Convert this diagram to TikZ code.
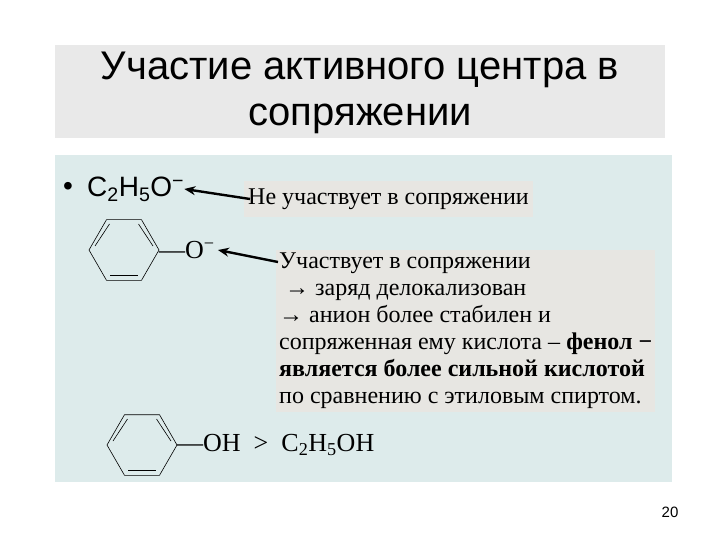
\documentclass[tikz,border=0pt]{standalone}
\usepackage{fontspec}
\setmainfont{Liberation Serif}
\newfontfamily\arial{Liberation Sans}
\usetikzlibrary{arrows.meta}
\definecolor{panel}{HTML}{DDEBEB}
\definecolor{tgray}{HTML}{E9E9E9}
\definecolor{bgray}{HTML}{E7E6E2}
\tikzset{
  ptr/.style={line width=2.4pt,-{Stealth[length=11pt,width=9pt]}},
  bond/.style={line width=0.6pt},
  tbox/.style={fill=bgray,inner sep=3pt,anchor=north west,align=left,font=\fontsize{24}{27}\selectfont},
}
\newcommand{\benz}[3]{% name, x, y
  \coordinate (#1) at (#2,#3);
  \draw[bond] (#2+35,#3) -- (#2+17.5,#3+30.3) -- (#2-17.5,#3+30.3) -- (#2-35,#3) -- (#2-17.5,#3-30.3) -- (#2+17.5,#3-30.3) -- cycle;
  \draw[bond] (#2-29,#3-4) -- (#2-14.5,#3-26);
  \draw[bond] (#2+29,#3-4) -- (#2+14.5,#3-26);
  \draw[bond] (#2-14,#3+25) -- (#2+14,#3+25);
}
\begin{document}
\begin{tikzpicture}[x=1pt,y=-1pt]
\useasboundingbox[fill=white] (0,0) rectangle (720,540);
\fill[tgray] (55,45) rectangle (665,138);
\node[font=\arial\fontsize{40}{40}\selectfont,align=center] (title) at (360,93) {Участие активного центра в\\[6pt]сопряжении};
\fill[panel] (55,155) rectangle (672,482);
\node[font=\arial\fontsize{28}{30}\selectfont] (bul) at (68,189) {•};
\node[font=\arial\fontsize{28}{30}\selectfont,anchor=west,inner sep=0pt] (et) at (87,189) {C\textsubscript{2}H\textsubscript{5}O\textsuperscript{−}};
\node[tbox,minimum height=36pt,inner sep=4pt] (b1) at (244,181) {Не участвует в сопряжении};
\coordinate (a1) at (250,199);
\draw[ptr] (a1) -- (et.east);
\benz{r1}{124}{250}
\node[font=\fontsize{26}{28}\selectfont,anchor=west,inner sep=0pt] (o1) at (159,250) {—O\textsuperscript{−}};
\node[tbox] (b2) at (276,250) {Участвует в сопряжении\\
\ → заряд делокализован\\
→ анион более стабилен и\\
сопряженная ему кислота – \textbf{фенол −}\\
\textbf{является более сильной кислотой}\\
по сравнению с этиловым спиртом.};
\coordinate (a2) at (278,262);
\draw[ptr] (a2) -- ([xshift=3pt]o1.east);
\benz{r2}{142}{445}
\node[font=\fontsize{26}{28}\selectfont,anchor=west,inner sep=0pt] (oh) at (177,445) {—OH \ > \ C\textsubscript{2}H\textsubscript{5}OH};
\node[font=\arial\fontsize{15}{16}\selectfont] (pg) at (670,512) {20};
\end{tikzpicture}
\end{document}
